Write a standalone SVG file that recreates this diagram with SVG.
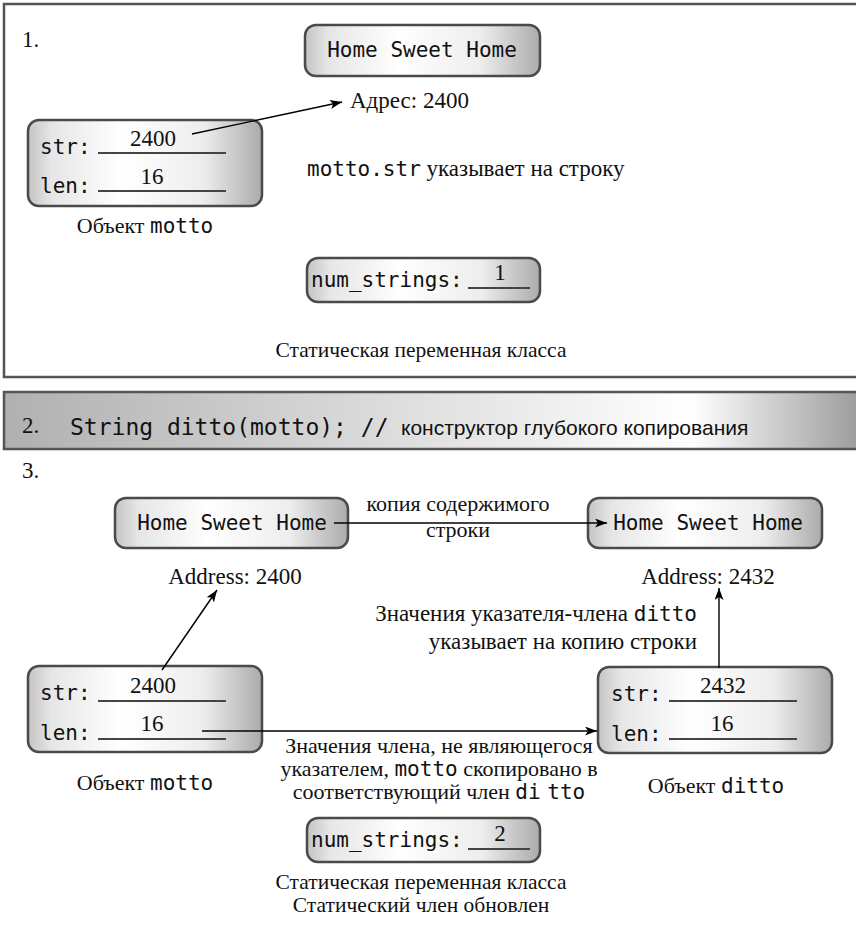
<svg xmlns="http://www.w3.org/2000/svg" width="856" height="928" viewBox="0 0 856 928">
<style>
.frame{fill:none;stroke:#555;stroke-width:2.5}
.box{fill:url(#boxg);stroke:#4a4a4a;stroke-width:2.5}
.ser{font-family:"Liberation Serif","Times New Roman",serif;font-size:22px;fill:#111}
.big{font-size:23px}
.cap{font-size:21.5px}
.mono{font-family:"DejaVu Sans Mono","Liberation Mono",monospace;font-size:21px;fill:#111}
.bmono{font-family:"DejaVu Sans Mono","Liberation Mono",monospace;font-size:23px;fill:#111}
.sans{font-family:"Liberation Sans",Arial,sans-serif;font-size:21px;fill:#111}
.ul{stroke:#444;stroke-width:2}
.arr{stroke:#000;stroke-width:1.4;fill:none;marker-end:url(#ah)}
</style>
<defs>
<linearGradient id="boxg" x1="0" y1="0" x2="1" y2="0">
<stop offset="0" stop-color="#c4c4c4"/>
<stop offset="0.1" stop-color="#e6e6e6"/>
<stop offset="0.4" stop-color="#ffffff"/>
<stop offset="0.75" stop-color="#ededed"/>
<stop offset="1" stop-color="#ababab"/>
</linearGradient>
<linearGradient id="bang" x1="0" y1="0" x2="1" y2="0">
<stop offset="0" stop-color="#b0b0b0"/>
<stop offset="0.8" stop-color="#ffffff"/>
<stop offset="1" stop-color="#999999"/>
</linearGradient>
<marker id="ah" markerWidth="13" markerHeight="10" refX="12" refY="4.5" orient="auto" markerUnits="userSpaceOnUse">
<path d="M0,0 L12,4.5 L0,9 L3,4.5 z" fill="#000"/>
</marker>
</defs>

<g id="panel1">
<rect class="frame" x="4" y="4" width="860" height="373"/>
<text class="ser big" x="22" y="47">1.</text>
</g>
<g id="p1-string">
<rect class="box" x="305" y="25" width="235" height="51" rx="11"/>
<text class="mono" x="422" y="57" text-anchor="middle">Home Sweet Home</text>
</g>
<text id="p1-addr" class="ser big" x="350" y="108">Адрес: 2400</text>
<g id="p1-motto">
<rect class="box" x="28" y="120" width="234" height="86" rx="11"/>
<text class="mono" x="40" y="154">str:</text>
<line class="ul" x1="98" y1="153" x2="226" y2="153"/>
<text class="ser big" x="153" y="146" text-anchor="middle">2400</text>
<text class="mono" x="40" y="193">len:</text>
<line class="ul" x1="98" y1="191" x2="226" y2="191"/>
<text class="ser big" x="152" y="184" text-anchor="middle">16</text>
</g>
<text id="p1-motto-label" class="ser" x="145" y="233" text-anchor="middle">Объект <tspan class="mono">motto</tspan></text>
<text id="p1-note" class="ser big" x="307" y="176"><tspan class="mono">motto.str</tspan> указывает на строку</text>
<g id="p1-num">
<rect class="box" x="307" y="258" width="233" height="44" rx="11"/>
<text class="mono" x="311" y="287">num_strings:</text>
<line class="ul" x1="468" y1="288" x2="530" y2="288"/>
<text class="ser big" x="500" y="280" text-anchor="middle">1</text>
</g>
<text id="p1-static" class="ser cap" x="421" y="357" text-anchor="middle">Статическая переменная класса</text>

<g id="panel2">
<rect x="4" y="392" width="860" height="57" fill="url(#bang)" stroke="#555" stroke-width="2.5"/>
<text class="ser big" x="22" y="433">2.</text>
<text class="bmono" x="70" y="435">String ditto(motto); //</text>
<text class="sans" x="401" y="435">конструктор  глубокого  копирования</text>
</g>

<g id="panel3">
<text class="ser big" x="22" y="478">3.</text>
</g>
<g id="p3-string-a">
<rect class="box" x="115" y="498" width="233" height="50" rx="11"/>
<text class="mono" x="232" y="530" text-anchor="middle">Home Sweet Home</text>
</g>
<g id="p3-string-b">
<rect class="box" x="588" y="498" width="234" height="50" rx="11"/>
<text class="mono" x="708" y="530" text-anchor="middle">Home Sweet Home</text>
</g>
<text class="ser" x="458" y="511" text-anchor="middle">копия содержимого</text>
<text class="ser" x="458" y="537" text-anchor="middle">строки</text>
<text class="ser big" x="235" y="584" text-anchor="middle">Address: 2400</text>
<text class="ser big" x="708" y="584" text-anchor="middle">Address: 2432</text>
<text class="ser big" x="697" y="621" text-anchor="end">Значения указателя-члена <tspan class="mono">ditto</tspan></text>
<text class="ser big" x="697" y="649" text-anchor="end">указывает на копию строки</text>
<g id="p3-motto">
<rect class="box" x="28" y="666" width="234" height="86" rx="11"/>
<text class="mono" x="40" y="700">str:</text>
<line class="ul" x1="98" y1="701" x2="226" y2="701"/>
<text class="ser big" x="153" y="693" text-anchor="middle">2400</text>
<text class="mono" x="40" y="740">len:</text>
<line class="ul" x1="98" y1="739" x2="226" y2="739"/>
<text class="ser big" x="152" y="731" text-anchor="middle">16</text>
</g>
<text class="ser" x="145" y="790" text-anchor="middle">Объект <tspan class="mono">motto</tspan></text>
<g id="p3-ditto">
<rect class="box" x="598" y="667" width="234" height="86" rx="11"/>
<text class="mono" x="611" y="701">str:</text>
<line class="ul" x1="669" y1="701" x2="797" y2="701"/>
<text class="ser big" x="723" y="693" text-anchor="middle">2432</text>
<text class="mono" x="611" y="741">len:</text>
<line class="ul" x1="669" y1="739" x2="797" y2="739"/>
<text class="ser big" x="722" y="731" text-anchor="middle">16</text>
</g>
<text class="ser" x="716" y="793" text-anchor="middle">Объект <tspan class="mono">ditto</tspan></text>
<text class="ser" x="439" y="753" text-anchor="middle">Значения члена,  не  являющегося</text>
<text class="ser" x="439" y="776" text-anchor="middle">указателем,  <tspan class="mono">motto</tspan> скопировано в</text>
<text class="ser" x="439" y="799" text-anchor="middle">соответствующий член  <tspan class="mono" word-spacing="-6">di tto</tspan></text>
<g id="p3-num">
<rect class="box" x="307" y="818" width="233" height="44" rx="11"/>
<text class="mono" x="311" y="847">num_strings:</text>
<line class="ul" x1="468" y1="849" x2="530" y2="849"/>
<text class="ser big" x="500" y="841" text-anchor="middle">2</text>
</g>
<text class="ser cap" x="421" y="889" text-anchor="middle">Статическая переменная класса</text>
<text class="ser cap" x="421" y="912" text-anchor="middle">Статический член обновлен</text>

<g id="connectors">
<line class="arr" x1="192" y1="134" x2="342" y2="102"/>
<line class="arr" x1="334" y1="523" x2="607" y2="523"/>
<line class="arr" x1="162" y1="670" x2="217" y2="590"/>
<line class="arr" x1="719" y1="668" x2="719" y2="588"/>
<line class="arr" x1="202" y1="731" x2="597" y2="731"/>
</g>
</svg>
